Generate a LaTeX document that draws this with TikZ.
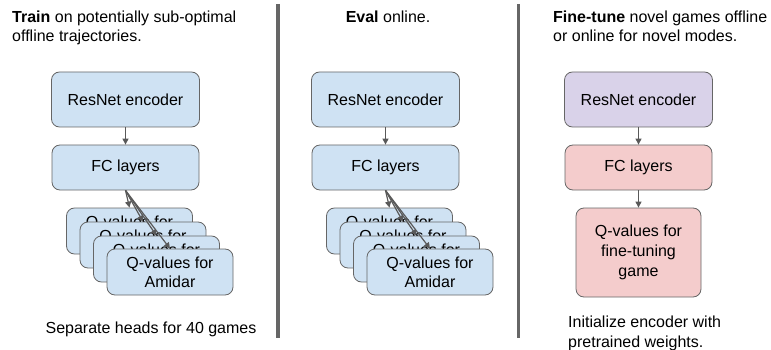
\documentclass[tikz,border=0pt]{standalone}
\usepackage{fontspec}
\setmainfont{Liberation Sans}
\usetikzlibrary{arrows.meta}
\definecolor{boxblue}{HTML}{CFE2F3}
\definecolor{boxpurple}{HTML}{D9D2E9}
\definecolor{boxpink}{HTML}{F4CCCC}
\definecolor{edgegray}{HTML}{666666}
\definecolor{arrowgray}{HTML}{595959}
\begin{document}
\begin{tikzpicture}[x=1pt,y=-1pt,
  box/.style={draw=edgegray, line width=0.8pt, rounded corners=8pt, inner sep=0pt, align=center, font=\fontsize{16}{19}\selectfont},
  enc/.style={box, minimum width=148pt, minimum height=55pt},
  fcbox/.style={box, minimum width=147pt, minimum height=45pt},
  qbox/.style={box, fill=boxblue, minimum width=126pt, minimum height=46pt},
  link/.style={draw=arrowgray, line width=1.2pt, -{Triangle[length=6pt,width=6pt]}},
  sep/.style={draw=edgegray, line width=3.5pt},
  caption/.style={font=\fontsize{16}{19}\selectfont, inner sep=0pt}
]
\useasboundingbox (0,0) rectangle (771,350);

% separators
\coordinate (s1top) at (278,4);
\coordinate (s1bot) at (278,338);
\coordinate (s2top) at (518.5,4);
\coordinate (s2bot) at (518.5,338);
\draw[sep] (s1top) -- (s1bot);
\draw[sep] (s2top) -- (s2bot);

% captions
\node[caption, anchor=base west] (t1a) at (12,23) {\textbf{Train} on potentially sub-optimal};
\node[caption, anchor=base west] (t1b) at (12,42) {offline trajectories.};
\node[caption, anchor=base] (t2a) at (388,23) {\textbf{Eval} online.};
\node[caption, anchor=base west] (t3a) at (553,23) {\textbf{Fine-tune} novel games offline};
\node[caption, anchor=base west] (t3b) at (553,42) {or online for novel modes.};
\node[caption, anchor=base] (b1) at (151,333) {Separate heads for 40 games};
\node[caption, anchor=base west] (b3a) at (568,327) {Initialize encoder with};
\node[caption, anchor=base west] (b3b) at (568,347) {pretrained weights.};

% left panel
\node[enc, fill=boxblue] (enc1) at (125.5,99.5) {ResNet encoder};
\node[fcbox, fill=boxblue] (fc1) at (125.5,167.5) {FC layers};
\node[qbox] (q1a) at (129.5,231) {Q-values for\\\phantom{Amidar}};
\node[qbox] (q1b) at (143,245) {Q-values for\\\phantom{Amidar}};
\node[qbox] (q1c) at (156.5,259) {Q-values for\\\phantom{Amidar}};
\node[qbox] (q1d) at (170,272) {Q-values for\\Amidar};
\draw[link] (enc1.south) -- (fc1.north);
\draw[link] (fc1.south) -- (q1a.north);
\draw[link] (fc1.south) -- (q1b.north);
\draw[link] (fc1.south) -- (q1c.north);
\draw[link] (fc1.south) -- (q1d.north);

% middle panel
\node[enc, fill=boxblue] (enc2) at (385.5,99.5) {ResNet encoder};
\node[fcbox, fill=boxblue] (fc2) at (385.5,167.5) {FC layers};
\node[qbox] (q2a) at (389.5,231) {Q-values for\\\phantom{Amidar}};
\node[qbox] (q2b) at (403,245) {Q-values for\\\phantom{Amidar}};
\node[qbox] (q2c) at (416.5,259) {Q-values for\\\phantom{Amidar}};
\node[qbox] (q2d) at (430,272) {Q-values for\\Amidar};
\draw[link] (enc2.south) -- (fc2.north);
\draw[link] (fc2.south) -- (q2a.north);
\draw[link] (fc2.south) -- (q2b.north);
\draw[link] (fc2.south) -- (q2c.north);
\draw[link] (fc2.south) -- (q2d.north);

% right panel
\node[enc, fill=boxpurple] (enc3) at (638.5,99.5) {ResNet encoder};
\node[fcbox, fill=boxpink] (fc3) at (638.5,167.5) {FC layers};
\node[box, fill=boxpink, minimum width=125pt, minimum height=89pt, font=\fontsize{16}{20}\selectfont] (q3) at (638.5,252.5) {Q-values for\\fine-tuning\\game};
\draw[link] (enc3.south) -- (fc3.north);
\draw[link] (fc3.south) -- (q3.north);
\end{tikzpicture}
\end{document}
